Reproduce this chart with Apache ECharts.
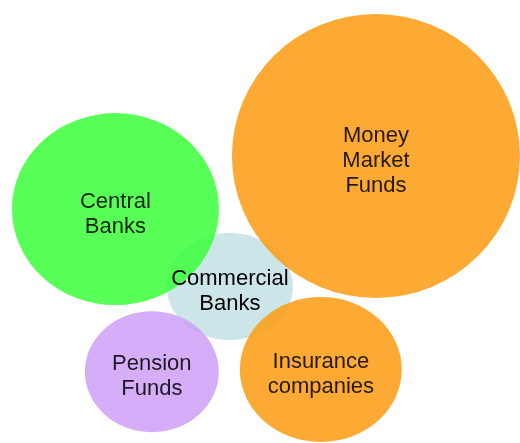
<!DOCTYPE html>
<html>
<head>
<meta charset="utf-8">
<script src="https://cdn.jsdelivr.net/npm/echarts@6/dist/echarts.min.js"></script>
<style>
  html, body { margin: 0; padding: 0; background: #fff; }
  #main { width: 520px; height: 443px; }
</style>
</head>
<body>
<div id="main"></div>
<script>
// bubble data (commercial banks first so the others sit on top of it)
var categories = ['Commercial\nBanks', 'Central\nBanks', 'Money\nMarket\nFunds', 'Pension\nFunds', 'Insurance\ncompanies'];
var xValues = [44.2, 22.2, 72.3, 29.2, 61.7];
var yValues = [35.3, 52.8, 64.8, 16.1, 16.6];
var sizeValues = [16.5, 48.6, 100, 19.8, 28.7];

// look of each bubble
var colors = ['#cce5e8', '#3bff3b', '#fb9c11', '#ce9ff7', '#fb9c11'];
var opacities = [1, 0.86, 0.86, 0.86, 0.86];
var stretch = [1.178, 1.078, 1.014, 1.107, 1.117];

var chart = echarts.init(document.getElementById('main'), null, { renderer: 'canvas' });

var seriesData = categories.map(function (name, i) {
  var d = Math.sqrt(sizeValues[i]) * 28.6;
  var s = Math.sqrt(stretch[i]);
  return {
    name: name,
    value: [xValues[i], yValues[i], sizeValues[i]],
    symbolSize: [d * s, d / s],
    itemStyle: { color: colors[i], opacity: opacities[i] }
  };
});

var option = {
  animation: false,
  grid: { left: 0, right: 0, top: 0, bottom: 0 },
  xAxis: { type: 'value', min: 0, max: 100, show: false },
  yAxis: { type: 'value', min: 0, max: 100, show: false },
  series: [
    {
      type: 'scatter',
      symbol: 'circle',
      data: seriesData,
      label: {
        show: true,
        position: 'inside',
        formatter: function (p) { return p.name; },
        color: '#000',
        fontFamily: 'Liberation Sans, Arial, sans-serif',
        fontSize: 22,
        lineHeight: 25,
        offset: [0, 5]
      },
      emphasis: { disabled: true }
    }
  ]
};

chart.setOption(option);
</script>
</body>
</html>
